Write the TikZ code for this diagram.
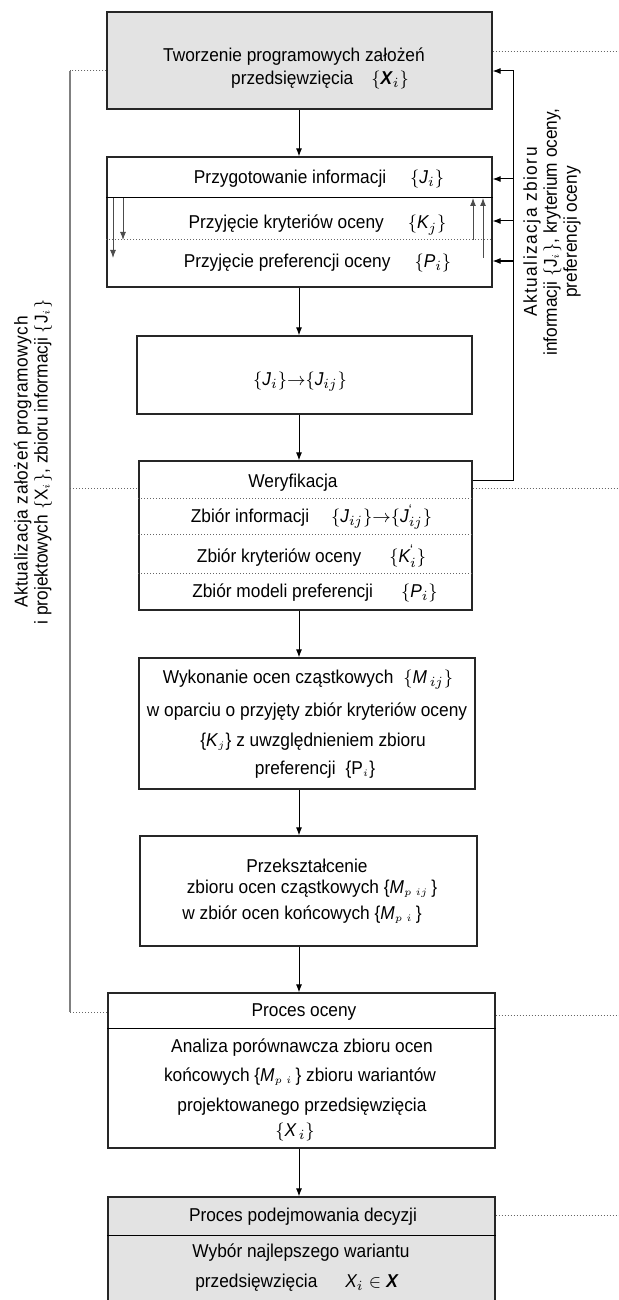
\documentclass[tikz,border=0pt]{standalone}
\usepackage{fontspec}
\setmainfont{Liberation Sans}[FakeStretch=0.93]
\usetikzlibrary{arrows.meta}
\newcommand{\zb}[2]{$\{\textit{#1}_{#2}\}$}
\newcommand{\mlo}{\scriptscriptstyle}
\newcommand{\apo}{^{\mbox{\scriptsize`}}}
\tikzset{
  blok/.style={draw=black!85,line width=0.6pt,inner sep=0pt},
  szary/.style={blok,fill=black!11},
  linia/.style={line width=0.5pt},
  wew/.style={line width=0.5pt,draw=black!70},
  kropki/.style={draw=black!60,densely dotted,line width=0.5pt},
  opis/.style={inner sep=0pt,rotate=90,align=center}
}
\begin{document}
\begin{tikzpicture}[x=0.5pt,y=-0.5pt,font=\fontsize{9.3}{10}\selectfont,>={Latex[length=4pt,width=3pt]}]
\useasboundingbox (0,0) rectangle (619,1300);
\clip (0,0) rectangle (619,1300);
\coordinate (os) at (299,0);
% bloki
\node[szary,minimum width=192.5pt,minimum height=48.5pt] (tw) at (299.5,60.5) {};
\node[blok,minimum width=192.5pt,minimum height=65pt] (prz) at (299.5,222) {};
\node[blok,minimum width=167.5pt,minimum height=39pt] (jj) at (304.5,375) {};
\node[blok,minimum width=166.5pt,minimum height=74.5pt] (wer) at (305.5,535.5) {};
\node[blok,minimum width=168pt,minimum height=65.5pt] (wyk) at (307,723.5) {};
\node[blok,minimum width=168.5pt,minimum height=55pt] (prk) at (308.5,891) {};
\node[blok,minimum width=193.5pt,minimum height=77.5pt] (poc) at (301.5,1070.5) {};
\node[szary,minimum width=193.5pt,minimum height=55pt] (dec) at (301.5,1252) {};
% podzialy
\draw[linia] (prz.west |- 0,198) -- (prz.east |- 0,198);
\draw[kropki] (prz.west |- 0,240) -- (prz.east |- 0,240);
\foreach \y in {498,534,573} \draw[kropki] (wer.west |- 0,\y) -- (wer.east |- 0,\y);
\draw[linia] (poc.west |- 0,1028) -- (poc.east |- 0,1028);
\draw[linia] (dec.west |- 0,1235) -- (dec.east |- 0,1235);
% teksty
\node (tw1) at (294,57) {Tworzenie programowych założeń};
\node (tw2) at (320,80) {przedsięwzięcia\hspace{9pt}$\{\textbf{\textit{X}}_i\}$};
\node (prz1) at (319,179) {Przygotowanie informacji\hspace{12pt}\zb{J}{i}};
\node (prz2) at (317.5,225) {Przyjęcie kryteriów oceny\hspace{12pt}\zb{K}{j}};
\node (prz3) at (317.5,263) {Przyjęcie preferencji oceny\hspace{12pt}\zb{P}{i}};
\node (jj1) at (300,382) {$\{\textit{J}_i\}{\rightarrow}\{\textit{J}_{ij}\}$};
\node (wer1) at (293,483) {Weryfikacja};
\node (wer2) at (311.5,517) {Zbiór informacji\hspace{11pt}$\{\textit{J}_{ij}\}{\rightarrow}\{\textit{J}\apo_{ij}\}$};
\node (wer3) at (311.5,556) {Zbiór kryteriów oceny\hspace{14pt}$\{\textit{K}\apo_{i}\}$};
\node (wer4) at (315,593) {Zbiór modeli preferencji\hspace{14pt}\zb{P}{i}};
\node (wyk1) at (308,680) {Wykonanie ocen cząstkowych\hspace{5pt}$\{\textit{M}_{\,ij}\}$};
\node (wyk2) at (307,712) {w oparciu o przyjęty zbiór kryteriów oceny};
\node (wyk3) at (313,742) {\{\textit{K}$_{\mlo j}$\} z uwzględnieniem zbioru};
\node (wyk4) at (315,770) {preferencji\hspace{5pt}\{P$_{\mlo i}$\}};
\node (prk1) at (307,866) {Przekształcenie};
\node (prk2) at (312,889) {zbioru ocen cząstkowych \{\textit{M}$_{\mlo p\;ij}$\,\}};
\node (prk3) at (302,915) {w zbiór ocen końcowych \{\textit{M}$_{\mlo p\;i}$\,\}};
\node (poc1) at (304,1012) {Proces oceny};
\node (poc2) at (302,1048) {Analiza porównawcza zbioru ocen};
\node (poc3) at (300,1077) {końcowych \{\textit{M}$_{\mlo p\;i}$\,\} zbioru wariantów};
\node (poc4) at (302,1107) {projektowanego przedsięwzięcia};
\node (poc5) at (295,1132) {$\{\textit{X}_{\,i}\}$};
\node (dec1) at (303,1217) {Proces podejmowania decyzji};
\node (dec2) at (301,1253) {Wybór najlepszego wariantu};
\node (dec3) at (297,1283) {przedsięwzięcia\hspace{14pt}$\textit{X}_i\in\textbf{\textit{X}}$};
% przeplyw glowny
\foreach \a/\b in {tw/prz,prz/jj,jj/wer,wer/wyk,wyk/prk,prk/poc,poc/dec}
  \draw[->,linia] (\a.south -| os) -- (\b.north -| os);
% strzalki wewnatrz
\draw[->,wew] (113,198) -- (113,258);
\draw[->,wew] (123,198) -- (123,240);
\draw[->,wew] (473,240) -- (473,198);
\draw[->,wew] (483,258) -- (483,198);
% sprzezenie lewe
\coordinate (l1) at (70,71); \coordinate (l2) at (70,488); \coordinate (l3) at (70,1012);
\draw[line width=1pt,draw=black!50] (l1) -- (l3);
\draw[kropki] (tw.west |- l1) -- (l1);
\draw[kropki] (l2) -- (wer.west |- l2);
\draw[kropki] (l3) -- (poc.west |- l3);
\node[opis] (lopis) at (33,462) {\addfontfeature{LetterSpace=3}\fontsize{9.3}{8.5}\selectfont Aktualizacja założeń programowych\\ i projektowych $\{$X$_{\mlo i}\}$, zbioru informacji $\{$J$_{\mlo i}\}$};
% sprzezenie prawe
\coordinate (p0) at (513,480); \coordinate (p1) at (513,71);
\draw[->,linia] (wer.east |- p0) -- (p0) -- (p1) -- (tw.east |- p1);
\foreach \y in {179,221,261} \draw[->,linia] (513,\y) -- (prz.east |- 0,\y);
\node[opis] (popis) at (552,232) {\addfontfeature{LetterSpace=8}\fontsize{9.3}{9.5}\selectfont Aktualizacja zbioru\\ informacji $\{$J$_{\mlo i}\}$, kryterium oceny,\\ preferencji oceny};
% linie kropkowane w prawo
\draw[kropki] (tw.east |- 0,52) -- (619,52);
\draw[kropki] (wer.east |- 0,488) -- (619,488);
\draw[kropki] (poc.east |- 0,1015) -- (619,1015);
\draw[kropki] (dec.east |- 0,1215) -- (619,1215);
\end{tikzpicture}
\end{document}
